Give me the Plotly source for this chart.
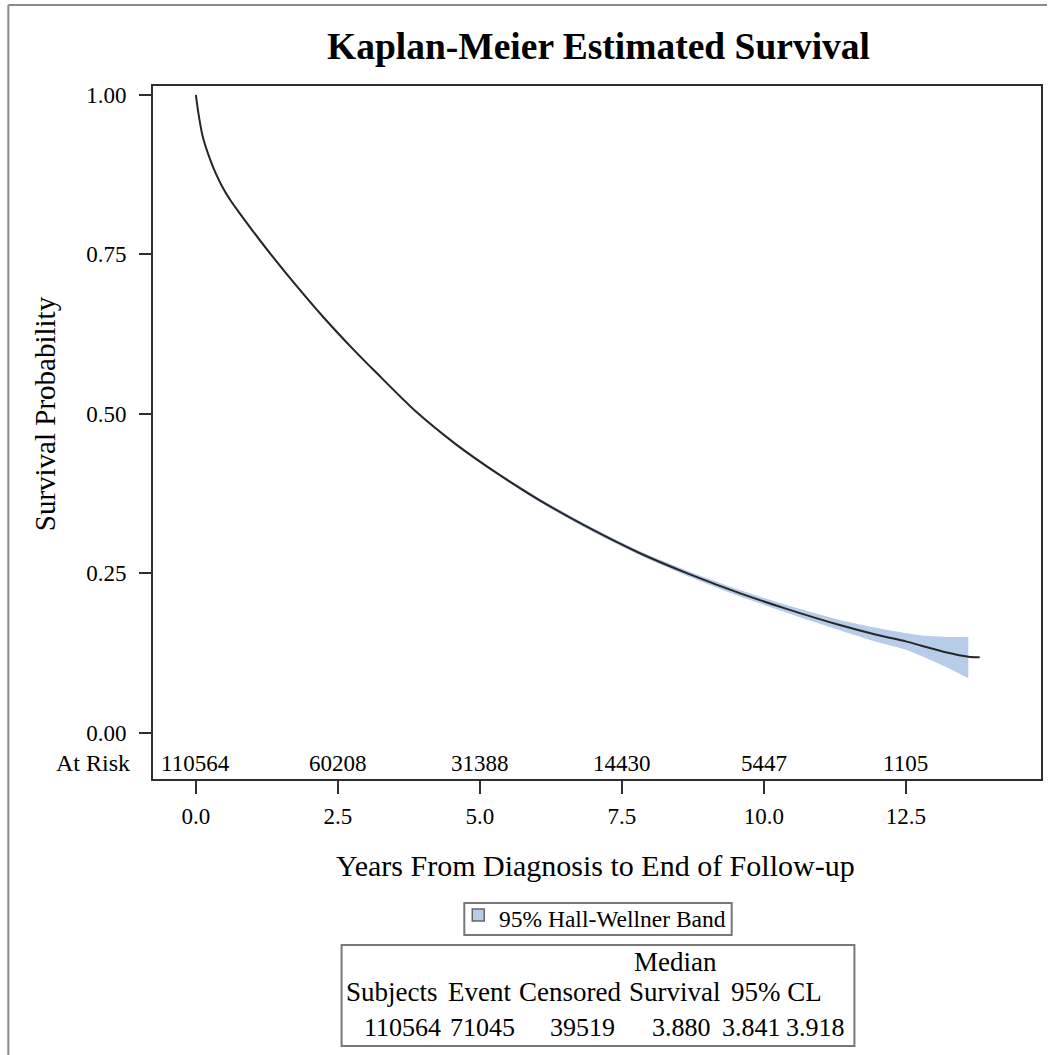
import plotly.graph_objects as go

# ---------------- data ----------------
time_years = [0, 0.04, 0.12, 0.25, 0.35, 0.46, 0.6, 0.75, 1.0, 1.32, 1.75, 2.25, 2.75, 3.17,
              3.88, 4.58, 5.28, 6.04, 6.9, 7.8, 8.7, 9.56, 10.4, 11.32, 12.0, 12.5, 12.78,
              13.2, 13.6, 13.8]
survival = [1.0, 0.974, 0.935, 0.899, 0.877, 0.857, 0.836, 0.817, 0.787, 0.750, 0.703, 0.651,
            0.603, 0.565, 0.503, 0.452, 0.408, 0.365, 0.322, 0.282, 0.248, 0.219, 0.194, 0.169,
            0.153, 0.143, 0.136, 0.126, 0.119, 0.118]
band_time = time_years[:29]
band_upper = [1.0, 0.976, 0.937, 0.901, 0.879, 0.859, 0.838, 0.819, 0.789, 0.752, 0.705, 0.653,
              0.605, 0.567, 0.505, 0.454, 0.410, 0.368, 0.325, 0.285, 0.252, 0.224, 0.200, 0.177,
              0.164, 0.156, 0.152, 0.150, 0.150]
band_lower = [1.0, 0.972, 0.933, 0.897, 0.875, 0.855, 0.834, 0.815, 0.785, 0.748, 0.701, 0.649,
              0.601, 0.563, 0.501, 0.450, 0.406, 0.362, 0.319, 0.279, 0.244, 0.214, 0.188, 0.161,
              0.142, 0.130, 0.120, 0.103, 0.085]

risk_times = [0, 2.5, 5.0, 7.5, 10.0, 12.5]
at_risk = [110564, 60208, 31388, 14430, 5447, 1105]

x_ticks = [0, 2.5, 5.0, 7.5, 10.0, 12.5]
y_ticks = [0, 0.25, 0.5, 0.75, 1.0]

title_text = "Kaplan-Meier Estimated Survival"
x_title = "Years From Diagnosis to End of Follow-up"
y_title = "Survival Probability"
legend_label = "95% Hall-Wellner Band"

table_header1 = ["Median"]
table_header2 = ["Subjects", "Event", "Censored", "Survival", "95% CL"]
table_values = ["110564", "71045", "39519", "3.880", "3.841", "3.918"]

# ---------------- layout helpers ----------------
W, H = 1049, 1055
L, R, T, B = 153, 1043, 86, 779
PW, PH = R - L, B - T

def px(X):
    return (X - L) / PW

def py(Y):
    return (B - Y) / PH

FONT = "Liberation Serif, Times New Roman, serif"
DARK = "#2e2e2e"
BAND = "rgb(183,204,232)"

fig = go.Figure()

fig.add_trace(go.Scatter(x=band_time, y=band_lower, mode="lines",
                         line=dict(width=0, shape="spline", smoothing=0.6),
                         showlegend=False, hoverinfo="skip"))
fig.add_trace(go.Scatter(x=band_time, y=band_upper, mode="lines", fill="tonexty",
                         fillcolor=BAND, line=dict(width=0, shape="spline", smoothing=0.6),
                         name=legend_label, showlegend=False, hoverinfo="skip"))
fig.add_trace(go.Scatter(x=time_years, y=survival, mode="lines",
                         line=dict(color="#262626", width=2, shape="spline", smoothing=0.8),
                         showlegend=False))

annotations = []
# title
annotations.append(dict(text=f"<b>{title_text}</b>", xref="paper", yref="paper",
                        x=px(600), y=py(46), xanchor="center", yanchor="middle",
                        showarrow=False, font=dict(family=FONT, size=37.5, color="black")))
# axis titles
annotations.append(dict(text=x_title, xref="paper", yref="paper", x=px(596), y=py(865),
                        xanchor="center", yanchor="middle", showarrow=False,
                        font=dict(family=FONT, size=30, color="black")))
annotations.append(dict(text=y_title, xref="paper", yref="paper", x=px(45), y=py(414),
                        xanchor="center", yanchor="middle", textangle=-90, showarrow=False,
                        font=dict(family=FONT, size=29, color="black")))
# at risk row
RISK_Y = -0.048
annotations.append(dict(text="At Risk", xref="paper", yref="y", x=px(132), y=RISK_Y,
                        xanchor="right", yanchor="middle", showarrow=False,
                        font=dict(family=FONT, size=24, color="black")))
for t, n in zip(risk_times, at_risk):
    annotations.append(dict(text=str(n), xref="x", yref="y", x=t, y=RISK_Y,
                            xanchor="center", yanchor="middle", showarrow=False,
                            font=dict(family=FONT, size=23, color="black")))
# legend
annotations.append(dict(text=legend_label, xref="paper", yref="paper", x=px(498), y=py(919),
                        xanchor="left", yanchor="middle", showarrow=False,
                        font=dict(family=FONT, size=23.5, color="black")))
# table
TF = dict(family=FONT, size=27, color="black")
NF = dict(family=FONT, size=26, color="black")
row1_y, row2_y, row3_y = 962, 992, 1027
annotations.append(dict(text=table_header1[0], xref="paper", yref="paper", x=px(633), y=py(row1_y),
                        xanchor="left", yanchor="middle", showarrow=False, font=TF))
for txt, xl in zip(table_header2, [344, 447, 518, 628, 730]):
    annotations.append(dict(text=txt, xref="paper", yref="paper", x=px(xl), y=py(row2_y),
                            xanchor="left", yanchor="middle", showarrow=False, font=TF))
value_pos = [(444, "right"), (449, "left"), (618, "right"), (714, "right"), (721, "left"),
             (849, "right")]
for txt, (xp, anc) in zip(table_values, value_pos):
    annotations.append(dict(text=txt, xref="paper", yref="paper", x=px(xp), y=py(row3_y),
                            xanchor=anc, yanchor="middle", showarrow=False, font=NF))

shapes = [
    # outer border (top and left)
    dict(type="line", xref="paper", yref="paper", x0=px(8), x1=px(1049), y0=py(5), y1=py(5),
         line=dict(color="#8a8a8a", width=2)),
    dict(type="line", xref="paper", yref="paper", x0=px(8), x1=px(8), y0=py(5), y1=py(1055),
         line=dict(color="#8a8a8a", width=2)),
    # legend box
    dict(type="rect", xref="paper", yref="paper", x0=px(465), x1=px(733), y0=py(903), y1=py(935),
         line=dict(color="#777777", width=2), fillcolor="white"),
    dict(type="rect", xref="paper", yref="paper", x0=px(473), x1=px(485), y0=py(909), y1=py(921),
         line=dict(color="#666666", width=1.5), fillcolor=BAND),
    # table box
    dict(type="rect", xref="paper", yref="paper", x0=px(342), x1=px(856), y0=py(945), y1=py(1046),
         line=dict(color="#777777", width=2), fillcolor="rgba(0,0,0,0)"),
]

fig.update_layout(
    width=W, height=H,
    margin=dict(l=L, r=W - R, t=T, b=H - B, pad=0),
    paper_bgcolor="white", plot_bgcolor="white",
    showlegend=False,
    annotations=annotations, shapes=shapes,
    font=dict(family=FONT, color="black"),
    xaxis=dict(range=[-0.755, 14.88], tickvals=x_ticks, tickformat=".1f",
               showgrid=False, zeroline=False, showline=True, mirror=True,
               linecolor=DARK, linewidth=2, ticks="outside", ticklen=13, tickwidth=2,
               tickcolor=DARK, ticklabelstandoff=2,
               tickfont=dict(family=FONT, size=23, color="black")),
    yaxis=dict(range=[-0.0729, 1.0141], tickvals=y_ticks, tickformat=".2f",
               showgrid=False, zeroline=False, showline=True, mirror=True,
               linecolor=DARK, linewidth=2, ticks="outside", ticklen=12, tickwidth=2,
               tickcolor=DARK, ticklabelstandoff=8,
               tickfont=dict(family=FONT, size=23, color="black")),
)

fig.write_html("out.html")
